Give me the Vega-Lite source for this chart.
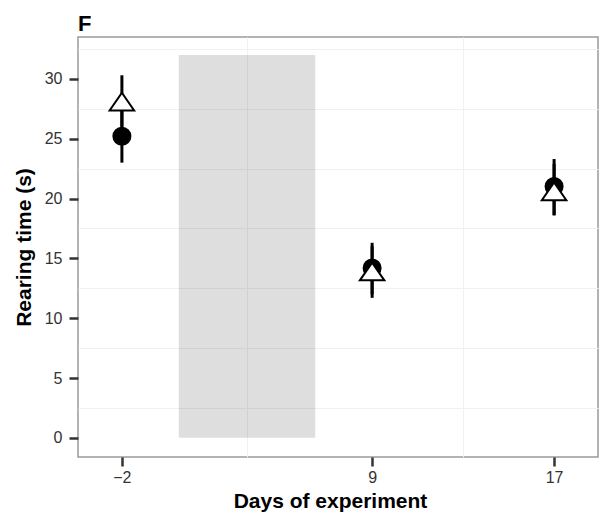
{
  "$schema": "https://vega.github.io/schema/vega-lite/v6.json",
  "autosize": "none",
  "width": 520,
  "height": 420,
  "padding": {"left": 78, "top": 37, "right": 2, "bottom": 62},
  "background": "white",
  "title": {
    "text": "F",
    "anchor": "start",
    "frame": "group",
    "font": "Liberation Sans",
    "fontSize": 22,
    "fontWeight": "bold",
    "color": "black",
    "baseline": "alphabetic",
    "offset": -16
  },
  "config": {
    "view": {"stroke": "#9a9a9a", "strokeWidth": 1.5},
    "axis": {
      "labelFont": "Liberation Sans",
      "labelFontSize": 16,
      "labelColor": "#333333",
      "titleFont": "Liberation Sans",
      "titleFontSize": 21,
      "titleFontWeight": "bold",
      "titleColor": "black",
      "tickColor": "#333333",
      "tickWidth": 2.5,
      "tickSize": 9,
      "domain": false,
      "grid": true,
      "gridColor": "#cccccc",
      "gridWidth": 1.2
    }
  },
  "datasets": {
    "stats": [
      {"day": -2, "group": "Group 1", "mean": 25.2, "lo": 23.0, "hi": 27.4},
      {"day": 9, "group": "Group 1", "mean": 14.2, "lo": 12.0, "hi": 16.3},
      {"day": 17, "group": "Group 1", "mean": 21.0, "lo": 18.6, "hi": 23.3},
      {"day": -2, "group": "Group 2", "mean": 28.1, "lo": 26.0, "hi": 30.3},
      {"day": 9, "group": "Group 2", "mean": 13.9, "lo": 11.7, "hi": 16.0},
      {"day": 17, "group": "Group 2", "mean": 20.6, "lo": 18.6, "hi": 22.9}
    ],
    "period": [
      {"start": 0.5, "end": 6.5, "low": 0, "high": 32}
    ]
  },
  "resolve": {"axis": {"x": "independent", "y": "independent"}},
  "layer": [
    {
      "data": {"name": "period"},
      "mark": {"type": "rect", "color": "black", "opacity": 0.13},
      "encoding": {
        "x": {
          "field": "start", "type": "quantitative",
          "scale": {"domain": [-3.93, 18.93], "nice": false, "zero": false},
          "axis": {"orient": "top", "values": [3.5, 13], "gridColor": "#f1f1f1", "gridWidth": 1,
                   "labels": false, "ticks": false, "title": null, "minExtent": 0, "maxExtent": 0}
        },
        "x2": {"field": "end"},
        "y": {
          "field": "low", "type": "quantitative",
          "scale": {"domain": [-1.6, 33.5], "nice": false, "zero": false},
          "axis": {"orient": "right", "values": [2.5, 7.5, 12.5, 17.5, 22.5, 27.5, 32.5], "gridColor": "#f1f1f1", "gridWidth": 1,
                   "labels": false, "ticks": false, "title": null, "minExtent": 0, "maxExtent": 0}
        },
        "y2": {"field": "high"}
      }
    },
    {
      "data": {"name": "stats"},
      "layer": [
        {
          "mark": {"type": "rule", "color": "black", "strokeWidth": 3},
          "encoding": {
            "x": {
              "field": "day", "type": "quantitative",
              "axis": {"orient": "bottom", "values": [-2, 9, 17], "title": "Days of experiment",
                       "labelFontSize": 16, "labelPadding": 3, "titlePadding": 5, "titleX": 252, "format": "d"}
            },
            "y": {
              "field": "lo", "type": "quantitative",
              "axis": {"orient": "left", "values": [0, 5, 10, 15, 20, 25, 30], "title": "Rearing time (s)",
                       "labelFontSize": 16, "labelPadding": 7, "titlePadding": 10}
            },
            "y2": {"field": "hi"}
          }
        },
        {
          "mark": {"type": "point", "filled": false, "opacity": 1, "stroke": "black", "strokeWidth": 2},
          "encoding": {
            "x": {"field": "day", "type": "quantitative"},
            "y": {"field": "mean", "type": "quantitative"},
            "shape": {
              "field": "group", "type": "nominal",
              "scale": {"domain": ["Group 1", "Group 2"], "range": ["circle", "M0,-0.72L1,0.72L-1,0.72Z"]},
              "legend": null
            },
            "fill": {
              "field": "group", "type": "nominal",
              "scale": {"domain": ["Group 1", "Group 2"], "range": ["black", "white"]},
              "legend": null
            },
            "size": {
              "field": "group", "type": "nominal",
              "scale": {"domain": ["Group 1", "Group 2"], "range": [290, 600]},
              "legend": null
            }
          }
        }
      ]
    }
  ]
}
